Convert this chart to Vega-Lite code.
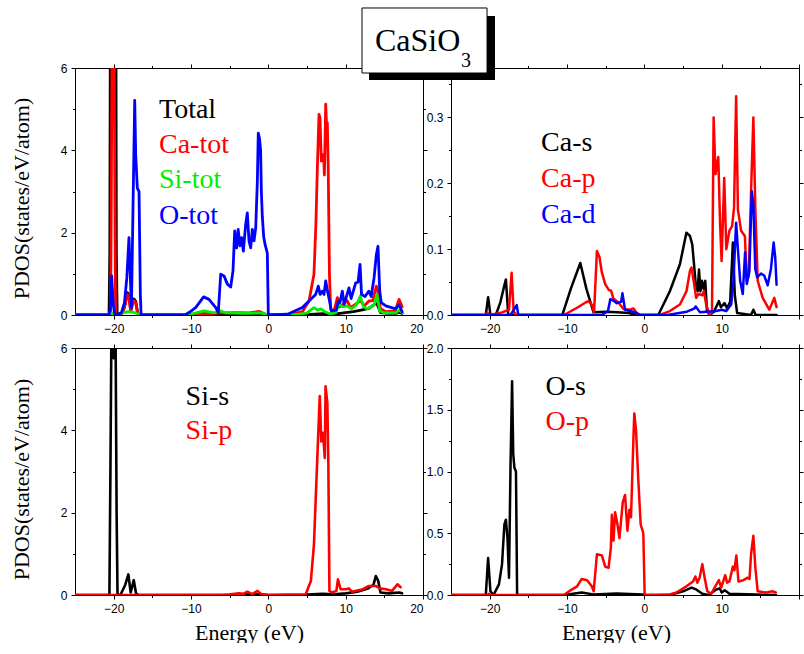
{
"$schema": "https://vega.github.io/schema/vega-lite/v6.json",
"padding": {"left": 10, "top": 7, "right": 0, "bottom": 0},
"bounds": "flush",
"columns": 2,
"spacing": {"row": 33, "column": 28},
"config": {
  "view": {"stroke": null},
  "axis": {"labelFont": "Liberation Sans", "labelFontSize": 12, "labelColor": "#000", "domainColor": "#000", "tickColor": "#000", "tickSize": 4, "labelPadding": 4, "grid": false, "titleFont": "Liberation Serif", "titleFontSize": 22, "titleFontWeight": "normal", "titleColor": "#000", "domainWidth": 1, "tickWidth": 1},
  "line": {"strokeJoin": "round", "strokeCap": "round"}
},
"datasets": {
"tl": [
{"s":"Total","e":-25,"v":0},{"s":"Total","e":-20.6,"v":0},{"s":"Total","e":-20.5,"v":1.5},{"s":"Total","e":-20.42,"v":8},{"s":"Total","e":-19.72,"v":8},{"s":"Total","e":-19.65,"v":1.5},{"s":"Total","e":-19.55,"v":0},{"s":"Total","e":-19.0,"v":0.02},{"s":"Total","e":-18.6,"v":0.2},{"s":"Total","e":-18.2,"v":0.54},{"s":"Total","e":-18.0,"v":0.45},{"s":"Total","e":-17.8,"v":0.08},{"s":"Total","e":-17.55,"v":0.3},{"s":"Total","e":-17.37,"v":0.39},{"s":"Total","e":-17.15,"v":0.33},{"s":"Total","e":-16.9,"v":0.05},{"s":"Total","e":-16.6,"v":0},{"s":"Total","e":-10.5,"v":0},{"s":"Total","e":-8.3,"v":0.03},{"s":"Total","e":-6.5,"v":0.01},{"s":"Total","e":-4,"v":0.02},{"s":"Total","e":-1,"v":0.02},{"s":"Total","e":0,"v":0},{"s":"Total","e":5,"v":0.01},{"s":"Total","e":7,"v":0.03},{"s":"Total","e":8.5,"v":0.02},{"s":"Total","e":10,"v":0.06},{"s":"Total","e":11,"v":0.08},{"s":"Total","e":12,"v":0.12},{"s":"Total","e":13,"v":0.16},{"s":"Total","e":13.9,"v":0.28},{"s":"Total","e":14.1,"v":0.25},{"s":"Total","e":14.5,"v":0.06},{"s":"Total","e":15.5,"v":0.04},{"s":"Total","e":16.5,"v":0.04},{"s":"Total","e":16.9,"v":0.07},{"s":"Total","e":17.3,"v":0.04},
{"s":"Ca-tot","e":-25,"v":0},{"s":"Ca-tot","e":-20.4,"v":0},{"s":"Ca-tot","e":-20.3,"v":3},{"s":"Ca-tot","e":-20.22,"v":6.3},{"s":"Ca-tot","e":-20.07,"v":5.75},{"s":"Ca-tot","e":-19.93,"v":6.3},{"s":"Ca-tot","e":-19.85,"v":3},{"s":"Ca-tot","e":-19.75,"v":0},{"s":"Ca-tot","e":-19.0,"v":0.02},{"s":"Ca-tot","e":-18.6,"v":0.18},{"s":"Ca-tot","e":-18.25,"v":0.5},{"s":"Ca-tot","e":-18.05,"v":0.45},{"s":"Ca-tot","e":-17.8,"v":0.1},{"s":"Ca-tot","e":-17.55,"v":0.27},{"s":"Ca-tot","e":-17.37,"v":0.35},{"s":"Ca-tot","e":-17.15,"v":0.3},{"s":"Ca-tot","e":-16.9,"v":0.05},{"s":"Ca-tot","e":-16.6,"v":0},{"s":"Ca-tot","e":-10.5,"v":0},{"s":"Ca-tot","e":-8,"v":0.03},{"s":"Ca-tot","e":-6,"v":0.05},{"s":"Ca-tot","e":-4,"v":0.06},{"s":"Ca-tot","e":-2.5,"v":0.05},{"s":"Ca-tot","e":-1.2,"v":0.09},{"s":"Ca-tot","e":-0.5,"v":0.03},{"s":"Ca-tot","e":0,"v":0},{"s":"Ca-tot","e":3,"v":0.02},{"s":"Ca-tot","e":4.4,"v":0.08},{"s":"Ca-tot","e":5.26,"v":0.34},{"s":"Ca-tot","e":5.9,"v":0.99},{"s":"Ca-tot","e":6.15,"v":2.2},{"s":"Ca-tot","e":6.34,"v":3.58},{"s":"Ca-tot","e":6.55,"v":4.87},{"s":"Ca-tot","e":6.68,"v":4.8},{"s":"Ca-tot","e":6.85,"v":3.74},{"s":"Ca-tot","e":6.98,"v":3.9},{"s":"Ca-tot","e":7.15,"v":3.86},{"s":"Ca-tot","e":7.25,"v":3.4},{"s":"Ca-tot","e":7.42,"v":5.12},{"s":"Ca-tot","e":7.55,"v":4.5},{"s":"Ca-tot","e":7.63,"v":4.67},{"s":"Ca-tot","e":7.75,"v":3.5},{"s":"Ca-tot","e":7.9,"v":1},{"s":"Ca-tot","e":8.07,"v":0.12},{"s":"Ca-tot","e":8.5,"v":0.1},{"s":"Ca-tot","e":8.93,"v":0.42},{"s":"Ca-tot","e":9.2,"v":0.2},{"s":"Ca-tot","e":9.6,"v":0.25},{"s":"Ca-tot","e":10.2,"v":0.35},{"s":"Ca-tot","e":10.6,"v":0.18},{"s":"Ca-tot","e":11.2,"v":0.25},{"s":"Ca-tot","e":11.9,"v":0.35},{"s":"Ca-tot","e":12.4,"v":0.22},{"s":"Ca-tot","e":13.0,"v":0.34},{"s":"Ca-tot","e":13.5,"v":0.35},{"s":"Ca-tot","e":13.97,"v":0.7},{"s":"Ca-tot","e":14.2,"v":0.55},{"s":"Ca-tot","e":14.5,"v":0.15},{"s":"Ca-tot","e":15.2,"v":0.08},{"s":"Ca-tot","e":16.4,"v":0.1},{"s":"Ca-tot","e":16.9,"v":0.38},{"s":"Ca-tot","e":17.3,"v":0.2},
{"s":"Si-tot","e":-25,"v":0},{"s":"Si-tot","e":-20.6,"v":0},{"s":"Si-tot","e":-20.2,"v":0.05},{"s":"Si-tot","e":-19.8,"v":0},{"s":"Si-tot","e":-18.2,"v":0.08},{"s":"Si-tot","e":-17.3,"v":0.06},{"s":"Si-tot","e":-16.5,"v":0},{"s":"Si-tot","e":-10.5,"v":0},{"s":"Si-tot","e":-8.3,"v":0.1},{"s":"Si-tot","e":-7,"v":0.05},{"s":"Si-tot","e":-6.2,"v":0.1},{"s":"Si-tot","e":-5.5,"v":0.05},{"s":"Si-tot","e":-3,"v":0.04},{"s":"Si-tot","e":-1,"v":0.05},{"s":"Si-tot","e":0,"v":0},{"s":"Si-tot","e":4,"v":0.02},{"s":"Si-tot","e":5,"v":0.05},{"s":"Si-tot","e":5.9,"v":0.18},{"s":"Si-tot","e":6.4,"v":0.12},{"s":"Si-tot","e":6.8,"v":0.15},{"s":"Si-tot","e":7.3,"v":0.08},{"s":"Si-tot","e":8,"v":0.03},{"s":"Si-tot","e":8.7,"v":0.05},{"s":"Si-tot","e":9.1,"v":0.26},{"s":"Si-tot","e":9.6,"v":0.2},{"s":"Si-tot","e":10.2,"v":0.22},{"s":"Si-tot","e":10.8,"v":0.15},{"s":"Si-tot","e":11.4,"v":0.25},{"s":"Si-tot","e":11.9,"v":0.46},{"s":"Si-tot","e":12.3,"v":0.2},{"s":"Si-tot","e":12.8,"v":0.15},{"s":"Si-tot","e":13.3,"v":0.2},{"s":"Si-tot","e":13.7,"v":0.25},{"s":"Si-tot","e":14.05,"v":0.5},{"s":"Si-tot","e":14.4,"v":0.1},{"s":"Si-tot","e":15,"v":0.05},{"s":"Si-tot","e":16.5,"v":0.05},{"s":"Si-tot","e":16.9,"v":0.12},{"s":"Si-tot","e":17.3,"v":0.06},
{"s":"O-tot","e":-25,"v":0},{"s":"O-tot","e":-20.6,"v":0},{"s":"O-tot","e":-20.45,"v":0.15},{"s":"O-tot","e":-20.26,"v":0.95},{"s":"O-tot","e":-20.05,"v":0.25},{"s":"O-tot","e":-19.85,"v":0},{"s":"O-tot","e":-19.0,"v":0.05},{"s":"O-tot","e":-18.6,"v":0.3},{"s":"O-tot","e":-18.3,"v":0.9},{"s":"O-tot","e":-18.02,"v":1.88},{"s":"O-tot","e":-17.88,"v":1.1},{"s":"O-tot","e":-17.7,"v":0.18},{"s":"O-tot","e":-17.5,"v":2.6},{"s":"O-tot","e":-17.28,"v":5.21},{"s":"O-tot","e":-17.15,"v":3.9},{"s":"O-tot","e":-16.94,"v":3.08},{"s":"O-tot","e":-16.72,"v":3.0},{"s":"O-tot","e":-16.55,"v":0.5},{"s":"O-tot","e":-16.45,"v":0},{"s":"O-tot","e":-10.8,"v":0},{"s":"O-tot","e":-10.26,"v":0.06},{"s":"O-tot","e":-9.4,"v":0.18},{"s":"O-tot","e":-8.37,"v":0.44},{"s":"O-tot","e":-7.67,"v":0.38},{"s":"O-tot","e":-6.8,"v":0.18},{"s":"O-tot","e":-6.47,"v":0.06},{"s":"O-tot","e":-6.16,"v":0.99},{"s":"O-tot","e":-5.73,"v":0.95},{"s":"O-tot","e":-5.3,"v":0.75},{"s":"O-tot","e":-4.87,"v":0.68},{"s":"O-tot","e":-4.57,"v":1.07},{"s":"O-tot","e":-4.35,"v":2.04},{"s":"O-tot","e":-4.1,"v":1.63},{"s":"O-tot","e":-3.9,"v":2.08},{"s":"O-tot","e":-3.67,"v":1.68},{"s":"O-tot","e":-3.45,"v":1.88},{"s":"O-tot","e":-3.23,"v":1.55},{"s":"O-tot","e":-2.93,"v":2.2},{"s":"O-tot","e":-2.72,"v":2.48},{"s":"O-tot","e":-2.5,"v":1.8},{"s":"O-tot","e":-2.28,"v":1.63},{"s":"O-tot","e":-2.07,"v":2.08},{"s":"O-tot","e":-1.85,"v":1.8},{"s":"O-tot","e":-1.63,"v":2.12},{"s":"O-tot","e":-1.42,"v":3.25},{"s":"O-tot","e":-1.3,"v":4.42},{"s":"O-tot","e":-1.15,"v":4.3},{"s":"O-tot","e":-1.0,"v":4.0},{"s":"O-tot","e":-0.9,"v":3.0},{"s":"O-tot","e":-0.78,"v":2.4},{"s":"O-tot","e":-0.6,"v":1.9},{"s":"O-tot","e":-0.43,"v":1.72},{"s":"O-tot","e":-0.13,"v":1.5},{"s":"O-tot","e":0.0,"v":0},{"s":"O-tot","e":2.5,"v":0.02},{"s":"O-tot","e":4.4,"v":0.18},{"s":"O-tot","e":5.26,"v":0.34},{"s":"O-tot","e":6.12,"v":0.5},{"s":"O-tot","e":6.46,"v":0.7},{"s":"O-tot","e":6.7,"v":0.5},{"s":"O-tot","e":6.98,"v":0.58},{"s":"O-tot","e":7.2,"v":0.5},{"s":"O-tot","e":7.42,"v":0.83},{"s":"O-tot","e":7.6,"v":0.63},{"s":"O-tot","e":7.9,"v":0.35},{"s":"O-tot","e":8.16,"v":0.1},{"s":"O-tot","e":8.8,"v":0.12},{"s":"O-tot","e":9.05,"v":0.34},{"s":"O-tot","e":9.25,"v":0.3},{"s":"O-tot","e":9.57,"v":0.58},{"s":"O-tot","e":9.8,"v":0.26},{"s":"O-tot","e":10.43,"v":0.66},{"s":"O-tot","e":10.7,"v":0.4},{"s":"O-tot","e":11.3,"v":0.78},{"s":"O-tot","e":11.6,"v":0.8},{"s":"O-tot","e":11.86,"v":1.23},{"s":"O-tot","e":12.05,"v":0.5},{"s":"O-tot","e":12.5,"v":0.45},{"s":"O-tot","e":13.0,"v":0.58},{"s":"O-tot","e":13.3,"v":0.45},{"s":"O-tot","e":13.67,"v":0.9},{"s":"O-tot","e":13.97,"v":1.47},{"s":"O-tot","e":14.18,"v":1.67},{"s":"O-tot","e":14.4,"v":0.6},{"s":"O-tot","e":14.6,"v":0.3},{"s":"O-tot","e":15.2,"v":0.22},{"s":"O-tot","e":16.47,"v":0.15},{"s":"O-tot","e":16.9,"v":0.25},{"s":"O-tot","e":17.3,"v":0.08}
],
"tr": [
{"s":"Ca-s","e":-25,"v":0},{"s":"Ca-s","e":-20.5,"v":0},{"s":"Ca-s","e":-20.2,"v":0.027},{"s":"Ca-s","e":-19.9,"v":0},{"s":"Ca-s","e":-19.2,"v":0},{"s":"Ca-s","e":-18.6,"v":0.02},{"s":"Ca-s","e":-18.1,"v":0.045},{"s":"Ca-s","e":-17.9,"v":0.054},{"s":"Ca-s","e":-17.6,"v":0},{"s":"Ca-s","e":-10.6,"v":0},{"s":"Ca-s","e":-9.5,"v":0.04},{"s":"Ca-s","e":-8.28,"v":0.079},{"s":"Ca-s","e":-7.5,"v":0.04},{"s":"Ca-s","e":-6.57,"v":0.004},{"s":"Ca-s","e":-5,"v":0.005},{"s":"Ca-s","e":-3.5,"v":0.004},{"s":"Ca-s","e":-2,"v":0.003},{"s":"Ca-s","e":-1,"v":0},{"s":"Ca-s","e":1.8,"v":0},{"s":"Ca-s","e":3.3,"v":0.036},{"s":"Ca-s","e":4.6,"v":0.077},{"s":"Ca-s","e":5.44,"v":0.125},{"s":"Ca-s","e":5.9,"v":0.12},{"s":"Ca-s","e":6.2,"v":0.107},{"s":"Ca-s","e":6.65,"v":0.047},{"s":"Ca-s","e":6.9,"v":0.036},{"s":"Ca-s","e":7.07,"v":0.069},{"s":"Ca-s","e":7.25,"v":0.036},{"s":"Ca-s","e":7.45,"v":0.052},{"s":"Ca-s","e":7.65,"v":0.04},{"s":"Ca-s","e":7.88,"v":0.052},{"s":"Ca-s","e":8.1,"v":0.006},{"s":"Ca-s","e":8.45,"v":0},{"s":"Ca-s","e":9.0,"v":0.005},{"s":"Ca-s","e":9.64,"v":0.021},{"s":"Ca-s","e":9.9,"v":0.012},{"s":"Ca-s","e":10.37,"v":0.018},{"s":"Ca-s","e":10.7,"v":0.01},{"s":"Ca-s","e":11.1,"v":0.02},{"s":"Ca-s","e":11.45,"v":0.11},{"s":"Ca-s","e":11.7,"v":0.03},{"s":"Ca-s","e":12.0,"v":0.003},{"s":"Ca-s","e":13.8,"v":0},{"s":"Ca-s","e":14.1,"v":0.008},{"s":"Ca-s","e":14.4,"v":0},{"s":"Ca-s","e":17.1,"v":0},
{"s":"Ca-p","e":-25,"v":0},{"s":"Ca-p","e":-20.6,"v":0},{"s":"Ca-p","e":-20.3,"v":0.003},{"s":"Ca-p","e":-20.0,"v":0},{"s":"Ca-p","e":-18.4,"v":0.004},{"s":"Ca-p","e":-17.5,"v":0.008},{"s":"Ca-p","e":-17.16,"v":0.064},{"s":"Ca-p","e":-16.9,"v":0.006},{"s":"Ca-p","e":-16.6,"v":0},{"s":"Ca-p","e":-10.4,"v":0},{"s":"Ca-p","e":-8.7,"v":0.011},{"s":"Ca-p","e":-7.6,"v":0.019},{"s":"Ca-p","e":-7.2,"v":0.021},{"s":"Ca-p","e":-6.75,"v":0.015},{"s":"Ca-p","e":-6.5,"v":0.004},{"s":"Ca-p","e":-6.13,"v":0.097},{"s":"Ca-p","e":-5.8,"v":0.088},{"s":"Ca-p","e":-5.5,"v":0.065},{"s":"Ca-p","e":-5.06,"v":0.047},{"s":"Ca-p","e":-4.6,"v":0.038},{"s":"Ca-p","e":-4.3,"v":0.037},{"s":"Ca-p","e":-4.0,"v":0.025},{"s":"Ca-p","e":-3.35,"v":0.019},{"s":"Ca-p","e":-2.7,"v":0.009},{"s":"Ca-p","e":-1.85,"v":0.008},{"s":"Ca-p","e":-1.4,"v":0.01},{"s":"Ca-p","e":-1.0,"v":0.003},{"s":"Ca-p","e":-0.5,"v":0},{"s":"Ca-p","e":2.0,"v":0},{"s":"Ca-p","e":3.3,"v":0.006},{"s":"Ca-p","e":4.6,"v":0.016},{"s":"Ca-p","e":5.45,"v":0.036},{"s":"Ca-p","e":5.9,"v":0.067},{"s":"Ca-p","e":6.1,"v":0.072},{"s":"Ca-p","e":6.4,"v":0.05},{"s":"Ca-p","e":6.7,"v":0.026},{"s":"Ca-p","e":7.0,"v":0.032},{"s":"Ca-p","e":7.5,"v":0.03},{"s":"Ca-p","e":7.7,"v":0.036},{"s":"Ca-p","e":8.0,"v":0.016},{"s":"Ca-p","e":8.45,"v":0},{"s":"Ca-p","e":8.75,"v":0.004},{"s":"Ca-p","e":8.96,"v":0.3},{"s":"Ca-p","e":9.2,"v":0.214},{"s":"Ca-p","e":9.56,"v":0.24},{"s":"Ca-p","e":9.8,"v":0.138},{"s":"Ca-p","e":9.99,"v":0.082},{"s":"Ca-p","e":10.33,"v":0.208},{"s":"Ca-p","e":10.6,"v":0.1},{"s":"Ca-p","e":11.0,"v":0.128},{"s":"Ca-p","e":11.35,"v":0.135},{"s":"Ca-p","e":11.6,"v":0.163},{"s":"Ca-p","e":11.87,"v":0.332},{"s":"Ca-p","e":12.1,"v":0.16},{"s":"Ca-p","e":12.51,"v":0.128},{"s":"Ca-p","e":13.0,"v":0.12},{"s":"Ca-p","e":13.25,"v":0.052},{"s":"Ca-p","e":13.5,"v":0.06},{"s":"Ca-p","e":13.84,"v":0.203},{"s":"Ca-p","e":14.1,"v":0.3},{"s":"Ca-p","e":14.35,"v":0.163},{"s":"Ca-p","e":14.66,"v":0.052},{"s":"Ca-p","e":15.3,"v":0.026},{"s":"Ca-p","e":16.16,"v":0.008},{"s":"Ca-p","e":16.8,"v":0.026},{"s":"Ca-p","e":17.1,"v":0.012},
{"s":"Ca-d","e":-25,"v":0},{"s":"Ca-d","e":-17.3,"v":0},{"s":"Ca-d","e":-16.5,"v":0.015},{"s":"Ca-d","e":-16.3,"v":0},{"s":"Ca-d","e":-5.5,"v":0},{"s":"Ca-d","e":-4.7,"v":0.006},{"s":"Ca-d","e":-4.4,"v":0.024},{"s":"Ca-d","e":-4.0,"v":0.022},{"s":"Ca-d","e":-3.56,"v":0.018},{"s":"Ca-d","e":-3.0,"v":0.02},{"s":"Ca-d","e":-2.83,"v":0.033},{"s":"Ca-d","e":-2.5,"v":0.008},{"s":"Ca-d","e":-1.85,"v":0.006},{"s":"Ca-d","e":-1.0,"v":0.003},{"s":"Ca-d","e":-0.5,"v":0},{"s":"Ca-d","e":3,"v":0},{"s":"Ca-d","e":5.5,"v":0.005},{"s":"Ca-d","e":6.5,"v":0.01},{"s":"Ca-d","e":6.64,"v":0.013},{"s":"Ca-d","e":7.2,"v":0.004},{"s":"Ca-d","e":9.3,"v":0.006},{"s":"Ca-d","e":10,"v":0.008},{"s":"Ca-d","e":10.6,"v":0.006},{"s":"Ca-d","e":11.23,"v":0.016},{"s":"Ca-d","e":11.5,"v":0.047},{"s":"Ca-d","e":11.87,"v":0.14},{"s":"Ca-d","e":12.1,"v":0.1},{"s":"Ca-d","e":12.39,"v":0.052},{"s":"Ca-d","e":12.73,"v":0.032},{"s":"Ca-d","e":13.03,"v":0.095},{"s":"Ca-d","e":13.25,"v":0.047},{"s":"Ca-d","e":13.58,"v":0.066},{"s":"Ca-d","e":13.89,"v":0.188},{"s":"Ca-d","e":14.1,"v":0.167},{"s":"Ca-d","e":14.35,"v":0.07},{"s":"Ca-d","e":14.6,"v":0.057},{"s":"Ca-d","e":15.09,"v":0.063},{"s":"Ca-d","e":15.5,"v":0.06},{"s":"Ca-d","e":15.95,"v":0.045},{"s":"Ca-d","e":16.37,"v":0.07},{"s":"Ca-d","e":16.72,"v":0.11},{"s":"Ca-d","e":16.93,"v":0.087},{"s":"Ca-d","e":17.1,"v":0.046}
],
"bl": [
{"s":"Si-s","e":-25,"v":0},{"s":"Si-s","e":-20.55,"v":0},{"s":"Si-s","e":-20.42,"v":3},{"s":"Si-s","e":-20.3,"v":6.2},{"s":"Si-s","e":-20.0,"v":5.75},{"s":"Si-s","e":-19.75,"v":6.2},{"s":"Si-s","e":-19.62,"v":2},{"s":"Si-s","e":-19.5,"v":0},{"s":"Si-s","e":-19.1,"v":0.01},{"s":"Si-s","e":-18.5,"v":0.25},{"s":"Si-s","e":-18.1,"v":0.5},{"s":"Si-s","e":-17.8,"v":0.06},{"s":"Si-s","e":-17.4,"v":0.36},{"s":"Si-s","e":-17.1,"v":0.03},{"s":"Si-s","e":-16.8,"v":0},{"s":"Si-s","e":-5,"v":0},{"s":"Si-s","e":-3.5,"v":0.02},{"s":"Si-s","e":-1,"v":0.02},{"s":"Si-s","e":0,"v":0},{"s":"Si-s","e":5,"v":0.01},{"s":"Si-s","e":7,"v":0.03},{"s":"Si-s","e":8.5,"v":0.02},{"s":"Si-s","e":10,"v":0.04},{"s":"Si-s","e":11.5,"v":0.08},{"s":"Si-s","e":12.8,"v":0.15},{"s":"Si-s","e":13.6,"v":0.25},{"s":"Si-s","e":13.9,"v":0.46},{"s":"Si-s","e":14.2,"v":0.35},{"s":"Si-s","e":14.5,"v":0.06},{"s":"Si-s","e":15.5,"v":0.04},{"s":"Si-s","e":16.9,"v":0.06},{"s":"Si-s","e":17.3,"v":0.04},
{"s":"Si-p","e":-25,"v":0},{"s":"Si-p","e":-6,"v":0},{"s":"Si-p","e":-5.1,"v":0.01},{"s":"Si-p","e":-3.8,"v":0.04},{"s":"Si-p","e":-3.2,"v":0.03},{"s":"Si-p","e":-2.7,"v":0.08},{"s":"Si-p","e":-2.1,"v":0.02},{"s":"Si-p","e":-1.4,"v":0.1},{"s":"Si-p","e":-0.9,"v":0.02},{"s":"Si-p","e":0,"v":0},{"s":"Si-p","e":4.8,"v":0},{"s":"Si-p","e":5.5,"v":0.34},{"s":"Si-p","e":5.9,"v":1.23},{"s":"Si-p","e":6.3,"v":3.17},{"s":"Si-p","e":6.65,"v":4.83},{"s":"Si-p","e":6.85,"v":3.73},{"s":"Si-p","e":7.07,"v":3.94},{"s":"Si-p","e":7.3,"v":3.33},{"s":"Si-p","e":7.4,"v":5.07},{"s":"Si-p","e":7.63,"v":4.66},{"s":"Si-p","e":7.76,"v":3.2},{"s":"Si-p","e":7.9,"v":0.1},{"s":"Si-p","e":8.27,"v":0.06},{"s":"Si-p","e":8.8,"v":0.1},{"s":"Si-p","e":9.0,"v":0.38},{"s":"Si-p","e":9.35,"v":0.14},{"s":"Si-p","e":10,"v":0.14},{"s":"Si-p","e":10.4,"v":0.16},{"s":"Si-p","e":10.8,"v":0.08},{"s":"Si-p","e":12.2,"v":0.14},{"s":"Si-p","e":13.0,"v":0.22},{"s":"Si-p","e":13.9,"v":0.22},{"s":"Si-p","e":14.4,"v":0.16},{"s":"Si-p","e":15.2,"v":0.14},{"s":"Si-p","e":16.0,"v":0.1},{"s":"Si-p","e":16.7,"v":0.26},{"s":"Si-p","e":17.1,"v":0.19}
],
"br": [
{"s":"O-s","e":-25,"v":0},{"s":"O-s","e":-20.5,"v":0},{"s":"O-s","e":-20.2,"v":0.3},{"s":"O-s","e":-19.9,"v":0.03},{"s":"O-s","e":-19.5,"v":0},{"s":"O-s","e":-18.8,"v":0.086},{"s":"O-s","e":-18.4,"v":0.25},{"s":"O-s","e":-18.1,"v":0.57},{"s":"O-s","e":-17.9,"v":0.61},{"s":"O-s","e":-17.7,"v":0.46},{"s":"O-s","e":-17.5,"v":0.14},{"s":"O-s","e":-17.3,"v":1.06},{"s":"O-s","e":-17.1,"v":1.73},{"s":"O-s","e":-16.95,"v":1.14},{"s":"O-s","e":-16.8,"v":1.03},{"s":"O-s","e":-16.6,"v":1.0},{"s":"O-s","e":-16.45,"v":0},{"s":"O-s","e":-10.4,"v":0},{"s":"O-s","e":-8.1,"v":0.02},{"s":"O-s","e":-6.6,"v":0.005},{"s":"O-s","e":-3.6,"v":0.013},{"s":"O-s","e":-0.2,"v":0.005},{"s":"O-s","e":0.2,"v":0},{"s":"O-s","e":3.3,"v":0},{"s":"O-s","e":5.0,"v":0.03},{"s":"O-s","e":6.1,"v":0.06},{"s":"O-s","e":6.7,"v":0.045},{"s":"O-s","e":7.5,"v":0.01},{"s":"O-s","e":8.3,"v":0},{"s":"O-s","e":9.3,"v":0.045},{"s":"O-s","e":9.75,"v":0.054},{"s":"O-s","e":10.0,"v":0.02},{"s":"O-s","e":10.4,"v":0.038},{"s":"O-s","e":11.0,"v":0.01},{"s":"O-s","e":17.0,"v":0},
{"s":"O-p","e":-25,"v":0},{"s":"O-p","e":-20.3,"v":0},{"s":"O-p","e":-20.1,"v":0.01},{"s":"O-p","e":-19.8,"v":0},{"s":"O-p","e":-10.4,"v":0},{"s":"O-p","e":-9.5,"v":0.04},{"s":"O-p","e":-8.7,"v":0.07},{"s":"O-p","e":-8.1,"v":0.13},{"s":"O-p","e":-7.4,"v":0.12},{"s":"O-p","e":-6.8,"v":0.07},{"s":"O-p","e":-6.55,"v":0.03},{"s":"O-p","e":-6.13,"v":0.33},{"s":"O-p","e":-5.49,"v":0.32},{"s":"O-p","e":-5.06,"v":0.23},{"s":"O-p","e":-4.63,"v":0.22},{"s":"O-p","e":-4.33,"v":0.38},{"s":"O-p","e":-4.2,"v":0.65},{"s":"O-p","e":-3.99,"v":0.44},{"s":"O-p","e":-3.78,"v":0.67},{"s":"O-p","e":-3.47,"v":0.57},{"s":"O-p","e":-3.22,"v":0.46},{"s":"O-p","e":-2.79,"v":0.75},{"s":"O-p","e":-2.49,"v":0.81},{"s":"O-p","e":-2.19,"v":0.52},{"s":"O-p","e":-1.93,"v":0.69},{"s":"O-p","e":-1.72,"v":0.63},{"s":"O-p","e":-1.55,"v":0.98},{"s":"O-p","e":-1.42,"v":1.25},{"s":"O-p","e":-1.3,"v":1.47},{"s":"O-p","e":-1.07,"v":1.33},{"s":"O-p","e":-0.77,"v":0.92},{"s":"O-p","e":-0.47,"v":0.57},{"s":"O-p","e":-0.13,"v":0.5},{"s":"O-p","e":0.04,"v":0},{"s":"O-p","e":1.6,"v":0},{"s":"O-p","e":3.3,"v":0.005},{"s":"O-p","e":4.15,"v":0.02},{"s":"O-p","e":5.44,"v":0.07},{"s":"O-p","e":6.3,"v":0.11},{"s":"O-p","e":6.6,"v":0.15},{"s":"O-p","e":6.85,"v":0.1},{"s":"O-p","e":7.15,"v":0.14},{"s":"O-p","e":7.5,"v":0.25},{"s":"O-p","e":7.8,"v":0.14},{"s":"O-p","e":8.14,"v":0.03},{"s":"O-p","e":8.66,"v":0.01},{"s":"O-p","e":9.08,"v":0.06},{"s":"O-p","e":9.64,"v":0.12},{"s":"O-p","e":9.94,"v":0.06},{"s":"O-p","e":10.46,"v":0.16},{"s":"O-p","e":10.7,"v":0.1},{"s":"O-p","e":11.0,"v":0.11},{"s":"O-p","e":11.45,"v":0.23},{"s":"O-p","e":11.65,"v":0.2},{"s":"O-p","e":11.9,"v":0.32},{"s":"O-p","e":12.17,"v":0.11},{"s":"O-p","e":12.8,"v":0.12},{"s":"O-p","e":13.37,"v":0.14},{"s":"O-p","e":13.6,"v":0.13},{"s":"O-p","e":13.8,"v":0.33},{"s":"O-p","e":14.1,"v":0.48},{"s":"O-p","e":14.36,"v":0.22},{"s":"O-p","e":14.66,"v":0.03},{"s":"O-p","e":15.73,"v":0.02},{"s":"O-p","e":16.6,"v":0.03},{"s":"O-p","e":17.0,"v":0.02}
],
"tl_lab": [{"s":"Total","e":-14.14,"v":4.79},{"s":"Ca-tot","e":-14.14,"v":3.94},{"s":"Si-tot","e":-14.14,"v":3.09},{"s":"O-tot","e":-14.14,"v":2.2}],
"tr_lab": [{"s":"Ca-s","e":-13.35,"v":0.249},{"s":"Ca-p","e":-13.35,"v":0.194},{"s":"Ca-d","e":-13.35,"v":0.14}],
"bl_lab": [{"s":"Si-s","e":-10.7,"v":4.61},{"s":"Si-p","e":-10.7,"v":3.78}],
"br_lab": [{"s":"O-s","e":-12.79,"v":1.62},{"s":"O-p","e":-12.79,"v":1.34}]
},
"concat": [
{
 "width": 348, "height": 247,
 "layer": [
  {"data": {"name": "tl"}, "mark": {"type": "line", "clip": true, "strokeWidth": 2.8},
   "encoding": {
    "x": {"field": "e", "type": "quantitative", "scale": {"domain": [-25, 20], "nice": false, "zero": false}, "axis": {"orient": "bottom", "values": [-20, -10, 0, 10, 20], "title": null}},
    "y": {"field": "v", "type": "quantitative", "scale": {"domain": [0, 6], "nice": false}, "axis": {"orient": "left", "values": [0, 2, 4, 6], "title": "PDOS(states/eV/atom)", "titlePadding": 27, "titleY": 130}},
    "color": {"field": "s", "type": "nominal", "scale": {"domain": ["Total","Ca-tot","Si-tot","O-tot","Ca-s","Ca-p","Ca-d","Si-s","Si-p","O-s","O-p"], "range": ["#000000","#ff0000","#00ee00","#0000ff","#000000","#ff0000","#0000ff","#000000","#ff0000","#000000","#ff0000"]}, "legend": null}
   }},
  {"data": {"values": [{}]}, "mark": {"type": "point", "opacity": 0},
   "encoding": {
    "x": {"datum": 0, "type": "quantitative", "scale": {"domain": [-25, 20], "nice": false, "zero": false}, "axis": {"orient": "bottom", "values": [-15, -5, 5, 15], "labels": false, "domain": false, "tickSize": 2.5, "title": null}},
    "y": {"datum": 0, "type": "quantitative", "scale": {"domain": [0, 6], "nice": false}, "axis": {"orient": "left", "values": [1, 3, 5], "labels": false, "domain": false, "tickSize": 2.5, "title": null}}
   }},
  {"data": {"values": [{}]}, "mark": {"type": "point", "opacity": 0},
   "encoding": {
    "x": {"datum": 0, "type": "quantitative", "scale": {"domain": [-25, 20], "nice": false, "zero": false}, "axis": {"orient": "top", "values": [-20, -10, 0, 10, 20], "labels": false, "title": null}},
    "y": {"datum": 0, "type": "quantitative", "scale": {"domain": [0, 6], "nice": false}, "axis": {"orient": "right", "values": [0, 2, 4, 6], "labels": false, "title": null}}
   }},
  {"data": {"values": [{}]}, "mark": {"type": "point", "opacity": 0},
   "encoding": {
    "x": {"datum": 0, "type": "quantitative", "scale": {"domain": [-25, 20], "nice": false, "zero": false}, "axis": {"orient": "top", "values": [-15, -5, 5, 15], "labels": false, "domain": false, "tickSize": 2.5, "title": null}},
    "y": {"datum": 0, "type": "quantitative", "scale": {"domain": [0, 6], "nice": false}, "axis": {"orient": "right", "values": [1, 3, 5], "labels": false, "domain": false, "tickSize": 2.5, "title": null}}
   }},
  {"data": {"name": "tl_lab"}, "mark": {"type": "text", "font": "Liberation Serif", "fontSize": 28, "align": "left", "baseline": "alphabetic"},
   "encoding": {
    "x": {"field": "e", "type": "quantitative", "scale": {"domain": [-25, 20], "nice": false, "zero": false}, "axis": null},
    "y": {"field": "v", "type": "quantitative", "scale": {"domain": [0, 6], "nice": false}, "axis": null},
    "text": {"field": "s"},
    "color": {"field": "s", "type": "nominal", "legend": null}
   }}
 ],
 "resolve": {"axis": {"x": "independent", "y": "independent"}}
},
{
 "width": 348, "height": 247,
 "layer": [
  {"data": {"name": "tr"}, "mark": {"type": "line", "clip": true, "strokeWidth": 2.5},
   "encoding": {
    "x": {"field": "e", "type": "quantitative", "scale": {"domain": [-25, 20], "nice": false, "zero": false}, "axis": {"orient": "bottom", "values": [-20, -10, 0, 10, 20], "title": null, "labelExpr": "datum.value == 20 ? '' : datum.label"}},
    "y": {"field": "v", "type": "quantitative", "scale": {"domain": [0, 0.375], "nice": false}, "axis": {"orient": "left", "values": [0, 0.1, 0.2, 0.3], "format": ".1f", "title": null}},
    "color": {"field": "s", "type": "nominal", "scale": {"domain": ["Total","Ca-tot","Si-tot","O-tot","Ca-s","Ca-p","Ca-d","Si-s","Si-p","O-s","O-p"], "range": ["#000000","#ff0000","#00ee00","#0000ff","#000000","#ff0000","#0000ff","#000000","#ff0000","#000000","#ff0000"]}, "legend": null}
   }},
  {"data": {"values": [{}]}, "mark": {"type": "point", "opacity": 0},
   "encoding": {
    "x": {"datum": 0, "type": "quantitative", "scale": {"domain": [-25, 20], "nice": false, "zero": false}, "axis": {"orient": "bottom", "values": [-15, -5, 5, 15], "labels": false, "domain": false, "tickSize": 2.5, "title": null}},
    "y": {"datum": 0, "type": "quantitative", "scale": {"domain": [0, 0.375], "nice": false}, "axis": {"orient": "left", "values": [0.05, 0.15, 0.25, 0.35], "labels": false, "domain": false, "tickSize": 2.5, "title": null}}
   }},
  {"data": {"values": [{}]}, "mark": {"type": "point", "opacity": 0},
   "encoding": {
    "x": {"datum": 0, "type": "quantitative", "scale": {"domain": [-25, 20], "nice": false, "zero": false}, "axis": {"orient": "top", "values": [-20, -10, 0, 10, 20], "labels": false, "title": null}},
    "y": {"datum": 0, "type": "quantitative", "scale": {"domain": [0, 0.375], "nice": false}, "axis": {"orient": "right", "values": [0, 0.1, 0.2, 0.3], "labels": false, "title": null}}
   }},
  {"data": {"values": [{}]}, "mark": {"type": "point", "opacity": 0},
   "encoding": {
    "x": {"datum": 0, "type": "quantitative", "scale": {"domain": [-25, 20], "nice": false, "zero": false}, "axis": {"orient": "top", "values": [-15, -5, 5, 15], "labels": false, "domain": false, "tickSize": 2.5, "title": null}},
    "y": {"datum": 0, "type": "quantitative", "scale": {"domain": [0, 0.375], "nice": false}, "axis": {"orient": "right", "values": [0.05, 0.15, 0.25, 0.35], "labels": false, "domain": false, "tickSize": 2.5, "title": null}}
   }},
  {"data": {"name": "tr_lab"}, "mark": {"type": "text", "font": "Liberation Serif", "fontSize": 28, "align": "left", "baseline": "alphabetic"},
   "encoding": {
    "x": {"field": "e", "type": "quantitative", "scale": {"domain": [-25, 20], "nice": false, "zero": false}, "axis": null},
    "y": {"field": "v", "type": "quantitative", "scale": {"domain": [0, 0.375], "nice": false}, "axis": null},
    "text": {"field": "s"},
    "color": {"field": "s", "type": "nominal", "legend": null}
   }},
  {"data": {"values": [{}]}, "mark": {"type": "rect", "fill": "#000000", "clip": false},
   "encoding": {
    "x": {"datum": -35.6, "type": "quantitative", "scale": {"domain": [-25, 20], "nice": false, "zero": false}, "axis": null},
    "x2": {"datum": -19.31},
    "y": {"datum": 0.4539, "type": "quantitative", "scale": {"domain": [0, 0.375], "nice": false}, "axis": null},
    "y2": {"datum": 0.3568}
   }},
  {"data": {"values": [{}]}, "mark": {"type": "rect", "fill": "#ffffff", "stroke": "#000000", "strokeWidth": 1, "clip": false},
   "encoding": {
    "x": {"datum": -36.51, "type": "quantitative", "scale": {"domain": [-25, 20], "nice": false, "zero": false}, "axis": null},
    "x2": {"datum": -20.34},
    "y": {"datum": 0.4661, "type": "quantitative", "scale": {"domain": [0, 0.375], "nice": false}, "axis": null},
    "y2": {"datum": 0.3674}
   }},
  {"data": {"values": [{}]}, "mark": {"type": "text", "text": "CaSiO", "font": "Liberation Serif", "fontSize": 32, "align": "left", "baseline": "alphabetic", "color": "#000000"},
   "encoding": {
    "x": {"datum": -34.83, "type": "quantitative", "scale": {"domain": [-25, 20], "nice": false, "zero": false}, "axis": null},
    "y": {"datum": 0.4008, "type": "quantitative", "scale": {"domain": [0, 0.375], "nice": false}, "axis": null}
   }},
  {"data": {"values": [{}]}, "mark": {"type": "text", "text": "3", "font": "Liberation Serif", "fontSize": 20, "align": "left", "baseline": "alphabetic", "color": "#000000"},
   "encoding": {
    "x": {"datum": -23.71, "type": "quantitative", "scale": {"domain": [-25, 20], "nice": false, "zero": false}, "axis": null},
    "y": {"datum": 0.3765, "type": "quantitative", "scale": {"domain": [0, 0.375], "nice": false}, "axis": null}
   }}
 ],
 "resolve": {"axis": {"x": "independent", "y": "independent"}}
},
{
 "width": 348, "height": 247,
 "layer": [
  {"data": {"name": "bl"}, "mark": {"type": "line", "clip": true, "strokeWidth": 2.6},
   "encoding": {
    "x": {"field": "e", "type": "quantitative", "scale": {"domain": [-25, 20], "nice": false, "zero": false}, "axis": {"orient": "bottom", "values": [-20, -10, 0, 10, 20], "title": "Energy (eV)", "titlePadding": 8}},
    "y": {"field": "v", "type": "quantitative", "scale": {"domain": [0, 6], "nice": false}, "axis": {"orient": "left", "values": [0, 2, 4, 6], "title": "PDOS(states/eV/atom)", "titlePadding": 27, "titleY": 131}},
    "color": {"field": "s", "type": "nominal", "scale": {"domain": ["Total","Ca-tot","Si-tot","O-tot","Ca-s","Ca-p","Ca-d","Si-s","Si-p","O-s","O-p"], "range": ["#000000","#ff0000","#00ee00","#0000ff","#000000","#ff0000","#0000ff","#000000","#ff0000","#000000","#ff0000"]}, "legend": null}
   }},
  {"data": {"values": [{}]}, "mark": {"type": "point", "opacity": 0},
   "encoding": {
    "x": {"datum": 0, "type": "quantitative", "scale": {"domain": [-25, 20], "nice": false, "zero": false}, "axis": {"orient": "bottom", "values": [-15, -5, 5, 15], "labels": false, "domain": false, "tickSize": 2.5, "title": null}},
    "y": {"datum": 0, "type": "quantitative", "scale": {"domain": [0, 6], "nice": false}, "axis": {"orient": "left", "values": [1, 3, 5], "labels": false, "domain": false, "tickSize": 2.5, "title": null}}
   }},
  {"data": {"values": [{}]}, "mark": {"type": "point", "opacity": 0},
   "encoding": {
    "x": {"datum": 0, "type": "quantitative", "scale": {"domain": [-25, 20], "nice": false, "zero": false}, "axis": {"orient": "top", "values": [-20, -10, 0, 10, 20], "labels": false, "title": null}},
    "y": {"datum": 0, "type": "quantitative", "scale": {"domain": [0, 6], "nice": false}, "axis": {"orient": "right", "values": [0, 2, 4, 6], "labels": false, "title": null}}
   }},
  {"data": {"values": [{}]}, "mark": {"type": "point", "opacity": 0},
   "encoding": {
    "x": {"datum": 0, "type": "quantitative", "scale": {"domain": [-25, 20], "nice": false, "zero": false}, "axis": {"orient": "top", "values": [-15, -5, 5, 15], "labels": false, "domain": false, "tickSize": 2.5, "title": null}},
    "y": {"datum": 0, "type": "quantitative", "scale": {"domain": [0, 6], "nice": false}, "axis": {"orient": "right", "values": [1, 3, 5], "labels": false, "domain": false, "tickSize": 2.5, "title": null}}
   }},
  {"data": {"name": "bl_lab"}, "mark": {"type": "text", "font": "Liberation Serif", "fontSize": 28, "align": "left", "baseline": "alphabetic"},
   "encoding": {
    "x": {"field": "e", "type": "quantitative", "scale": {"domain": [-25, 20], "nice": false, "zero": false}, "axis": null},
    "y": {"field": "v", "type": "quantitative", "scale": {"domain": [0, 6], "nice": false}, "axis": null},
    "text": {"field": "s"},
    "color": {"field": "s", "type": "nominal", "legend": null}
   }}
 ],
 "resolve": {"axis": {"x": "independent", "y": "independent"}}
},
{
 "width": 348, "height": 247,
 "layer": [
  {"data": {"name": "br"}, "mark": {"type": "line", "clip": true, "strokeWidth": 2.5},
   "encoding": {
    "x": {"field": "e", "type": "quantitative", "scale": {"domain": [-25, 20], "nice": false, "zero": false}, "axis": {"orient": "bottom", "values": [-20, -10, 0, 10, 20], "title": "Energy (eV)", "titlePadding": 8, "titleX": 165, "labelExpr": "datum.value == 20 ? '' : datum.label"}},
    "y": {"field": "v", "type": "quantitative", "scale": {"domain": [0, 2], "nice": false}, "axis": {"orient": "left", "values": [0, 0.5, 1, 1.5, 2], "format": ".1f", "title": null}},
    "color": {"field": "s", "type": "nominal", "scale": {"domain": ["Total","Ca-tot","Si-tot","O-tot","Ca-s","Ca-p","Ca-d","Si-s","Si-p","O-s","O-p"], "range": ["#000000","#ff0000","#00ee00","#0000ff","#000000","#ff0000","#0000ff","#000000","#ff0000","#000000","#ff0000"]}, "legend": null}
   }},
  {"data": {"values": [{}]}, "mark": {"type": "point", "opacity": 0},
   "encoding": {
    "x": {"datum": 0, "type": "quantitative", "scale": {"domain": [-25, 20], "nice": false, "zero": false}, "axis": {"orient": "bottom", "values": [-15, -5, 5, 15], "labels": false, "domain": false, "tickSize": 2.5, "title": null}},
    "y": {"datum": 0, "type": "quantitative", "scale": {"domain": [0, 2], "nice": false}, "axis": {"orient": "left", "values": [0.25, 0.75, 1.25, 1.75], "labels": false, "domain": false, "tickSize": 2.5, "title": null}}
   }},
  {"data": {"values": [{}]}, "mark": {"type": "point", "opacity": 0},
   "encoding": {
    "x": {"datum": 0, "type": "quantitative", "scale": {"domain": [-25, 20], "nice": false, "zero": false}, "axis": {"orient": "top", "values": [-20, -10, 0, 10, 20], "labels": false, "title": null}},
    "y": {"datum": 0, "type": "quantitative", "scale": {"domain": [0, 2], "nice": false}, "axis": {"orient": "right", "values": [0, 0.5, 1, 1.5, 2], "labels": false, "title": null}}
   }},
  {"data": {"values": [{}]}, "mark": {"type": "point", "opacity": 0},
   "encoding": {
    "x": {"datum": 0, "type": "quantitative", "scale": {"domain": [-25, 20], "nice": false, "zero": false}, "axis": {"orient": "top", "values": [-15, -5, 5, 15], "labels": false, "domain": false, "tickSize": 2.5, "title": null}},
    "y": {"datum": 0, "type": "quantitative", "scale": {"domain": [0, 2], "nice": false}, "axis": {"orient": "right", "values": [0.25, 0.75, 1.25, 1.75], "labels": false, "domain": false, "tickSize": 2.5, "title": null}}
   }},
  {"data": {"name": "br_lab"}, "mark": {"type": "text", "font": "Liberation Serif", "fontSize": 28, "align": "left", "baseline": "alphabetic"},
   "encoding": {
    "x": {"field": "e", "type": "quantitative", "scale": {"domain": [-25, 20], "nice": false, "zero": false}, "axis": null},
    "y": {"field": "v", "type": "quantitative", "scale": {"domain": [0, 2], "nice": false}, "axis": null},
    "text": {"field": "s"},
    "color": {"field": "s", "type": "nominal", "legend": null}
   }}
 ],
 "resolve": {"axis": {"x": "independent", "y": "independent"}}
}
]
}
